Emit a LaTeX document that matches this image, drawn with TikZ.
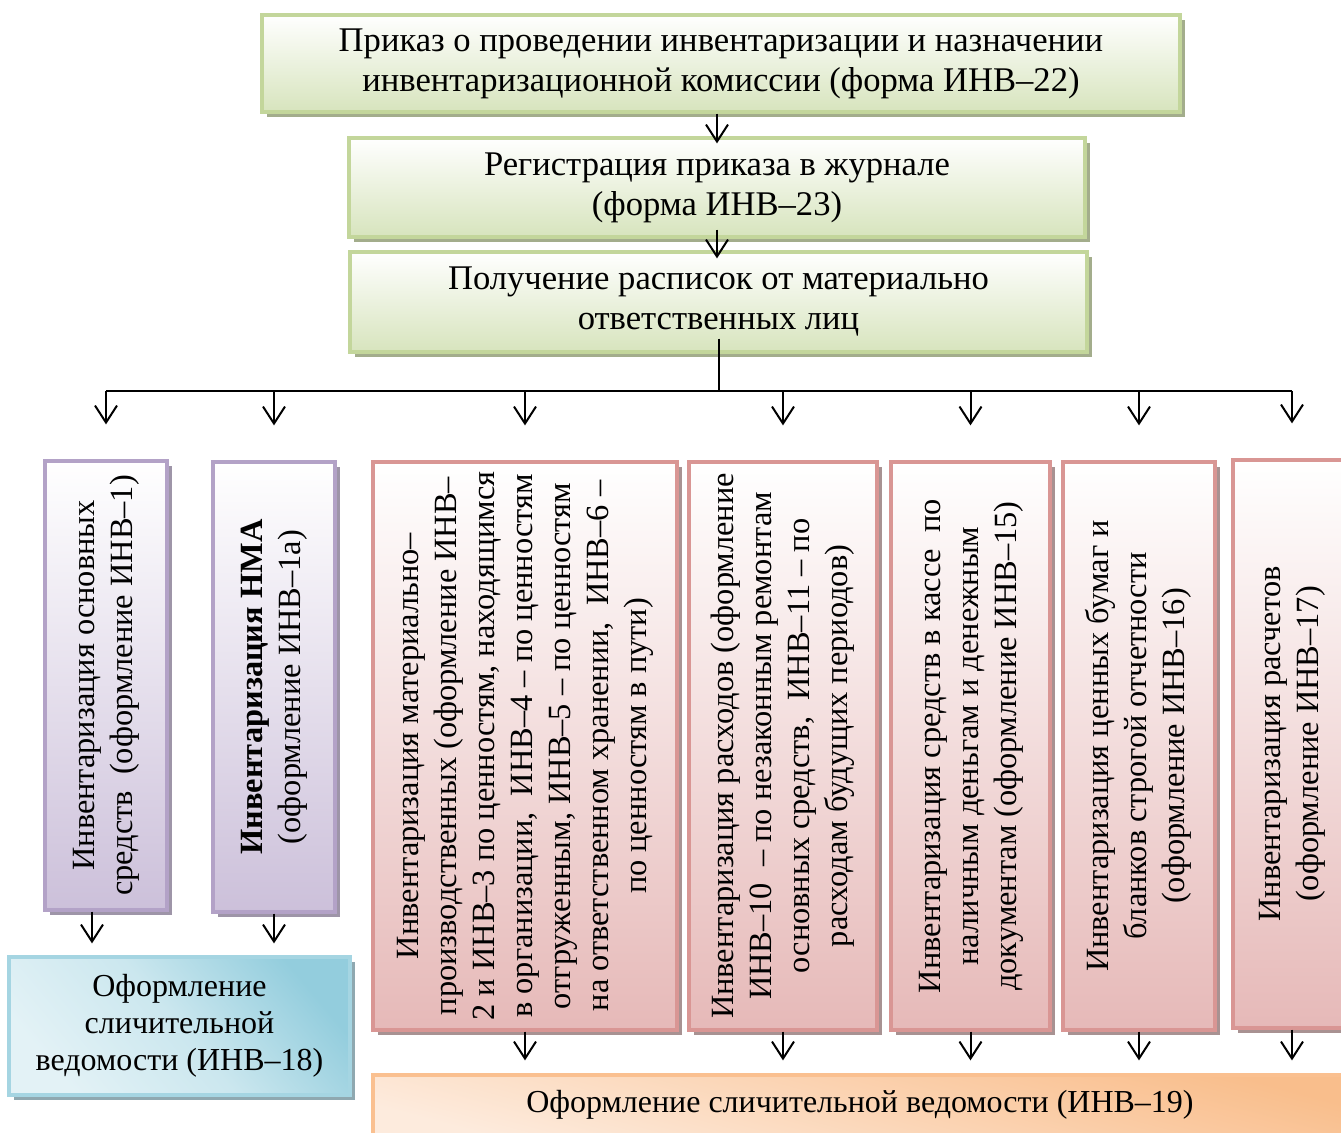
\documentclass[tikz,border=0pt]{standalone}
\usepackage{fontspec}
\setmainfont{Liberation Serif}
\usepackage{graphicx}
\usetikzlibrary{shadows,arrows.meta}

\definecolor{grLine}{HTML}{C3D69B}
\definecolor{grFill}{HTML}{D7E4BD}
\definecolor{grShad}{HTML}{A3AD8C}
\definecolor{vioLine}{HTML}{B3A2C7}
\definecolor{vioFill}{HTML}{CCC0DA}
\definecolor{vioShad}{HTML}{9E95A8}
\definecolor{redLine}{HTML}{D99694}
\definecolor{redFill}{HTML}{E6B9B8}
\definecolor{redShad}{HTML}{A89292}
\definecolor{cyLine}{HTML}{A5D5E2}
\definecolor{cyDark}{HTML}{93CDDD}
\definecolor{cyLight}{HTML}{E3F2F6}
\definecolor{cyShad}{HTML}{8FA8B0}
\definecolor{orLine}{HTML}{FAC090}
\definecolor{orDark}{HTML}{F9BE8C}
\definecolor{orLight}{HTML}{FDEBDD}

\tikzset{
  box/.style={rectangle, line width=1.6pt, inner sep=0pt, align=center,
    font=\fontsize{17.3}{20}\selectfont},
  greenbox/.style={box, draw=grLine, top color=white, bottom color=grFill,
    execute at begin node={\rule{0pt}{17.5pt}},
    drop shadow={shadow xshift=2.5pt, shadow yshift=-2.5pt, fill=grShad, opacity=1}},
  viobox/.style={box, draw=vioLine, top color=white, bottom color=vioFill,
    minimum width=61pt,
    drop shadow={shadow xshift=2.5pt, shadow yshift=-2.5pt, fill=vioShad, opacity=1}},
  redbox/.style={box, draw=redLine, top color=white, bottom color=redFill,
    minimum height=284pt,
    drop shadow={shadow xshift=2.5pt, shadow yshift=-2.5pt, fill=redShad, opacity=1}},
  cyanbox/.style={box, draw=cyLine, top color=cyDark, bottom color=cyLight,
    middle color=cyLight!70!cyDark, shading angle=-50,
    font=\fontsize{16}{18.5}\selectfont,
    drop shadow={shadow xshift=2.5pt, shadow yshift=-2.5pt, fill=cyShad, opacity=1}},
  orbox/.style={box, draw=orLine, top color=orDark, bottom color=orLight,
    shading angle=-15, font=\fontsize{16}{18.5}\selectfont},
  arr/.style={-{Straight Barb[length=8.5pt,width=11pt]}, line width=1pt},
}
% rotated text for the tall boxes
\newcommand{\vtext}[1]{\rotatebox{90}{\fontsize{16.2}{19}\selectfont\begin{tabular}{@{}c@{}}#1\end{tabular}}}

\begin{document}
\begin{tikzpicture}[x=0.5pt, y=-0.5pt]
\path[use as bounding box, clip] (0,0) rectangle (1341,1133);

% upper chain
\node[greenbox, minimum width=459pt, minimum height=48.5pt] (prikaz) at (721,63.5)
  {Приказ о проведении инвентаризации и назначении\\инвентаризационной комиссии (форма ИНВ–22)};
\node[greenbox, minimum width=368pt, minimum height=49.5pt] (reg) at (717,187.5)
  {Регистрация приказа в журнале\\(форма ИНВ–23)};
\node[greenbox, minimum width=368.5pt, minimum height=50pt] (rasp) at (718.5,302)
  {Получение расписок от материально\\ответственных лиц};

% tall boxes
\node[viobox, minimum height=224.5pt] (osn) at (106,685.5)
  {\vtext{Инвентаризация основных\\средств~ (оформление ИНВ–1)}};
\node[viobox, minimum height=225pt] (nma) at (274,687)
  {\vtext{\textbf{Инвентаризация НМА}\\(оформление ИНВ–1а)}};
\node[redbox, minimum width=152pt] (mpz) at (525,746)
  {\vtext{Инвентаризация материально–\\производственных (оформление ИНВ–\\2 и ИНВ–3 по ценностям, находящимся\\в организации,~ ИНВ–4 – по ценностям\\отгруженным, ИНВ–5 – по ценностям\\на ответственном хранении,~ ИНВ–6 –\\по ценностям в пути)}};
\node[redbox, minimum width=94pt] (rash) at (783,746)
  {\vtext{Инвентаризация расходов (оформление\\ИНВ–10~ – по незаконным ремонтам\\основных средств,~ ИНВ–11 – по\\расходам будущих периодов)}};
\node[redbox, minimum width=79.5pt] (kassa) at (970.5,746)
  {\vtext{Инвентаризация средств в кассе~ по\\наличным деньгам и денежным\\документам (оформление ИНВ–15)}};
\node[redbox, minimum width=76pt] (cb) at (1139,746)
  {\vtext{Инвентаризация ценных бумаг и\\бланков строгой отчетности\\(оформление ИНВ–16)}};
\node[redbox, minimum width=59pt] (rasch) at (1292,744)
  {\vtext{Инвентаризация расчетов\\(оформление ИНВ–17)}};

% bottom boxes
\node[cyanbox, minimum width=170.5pt, minimum height=69pt] (ved18) at (179.5,1026)
  {Оформление\\сличительной\\ведомости (ИНВ–18)};
\node[orbox, minimum width=487pt, minimum height=30pt] (ved19) at (860,1105)
  {Оформление сличительной ведомости (ИНВ–19)};

% connectors
\draw[arr, shorten >=-3.5pt] (prikaz.south -| reg.north) -- (reg.north);
\draw[arr, shorten <=-4.5pt, shorten >=-4pt] (reg.south) -- (reg.south |- rasp.north);
\coordinate (bus) at (718.5,391);
\draw[line width=1pt] ([yshift=7.5pt]rasp.south) -- (bus);
\draw[line width=1pt] (osn.north |- bus) -- (rasch.north |- bus);
\foreach \b in {osn,nma,mpz,rash,kassa,cb,rasch}
  \draw[arr, shorten >=17.5pt] (\b.north |- bus) -- (\b.north);
\draw[arr, shorten >=6pt] ([xshift=-7pt]osn.south) -- ([xshift=-7pt]osn.south |- ved18.north);
\draw[arr, shorten >=6pt] (nma.south) -- (nma.south |- ved18.north);
\foreach \b in {mpz,rash,kassa,cb,rasch}
  \draw[arr, shorten >=6.5pt] (\b.south) -- (\b.south |- ved19.north);
\end{tikzpicture}
\end{document}
